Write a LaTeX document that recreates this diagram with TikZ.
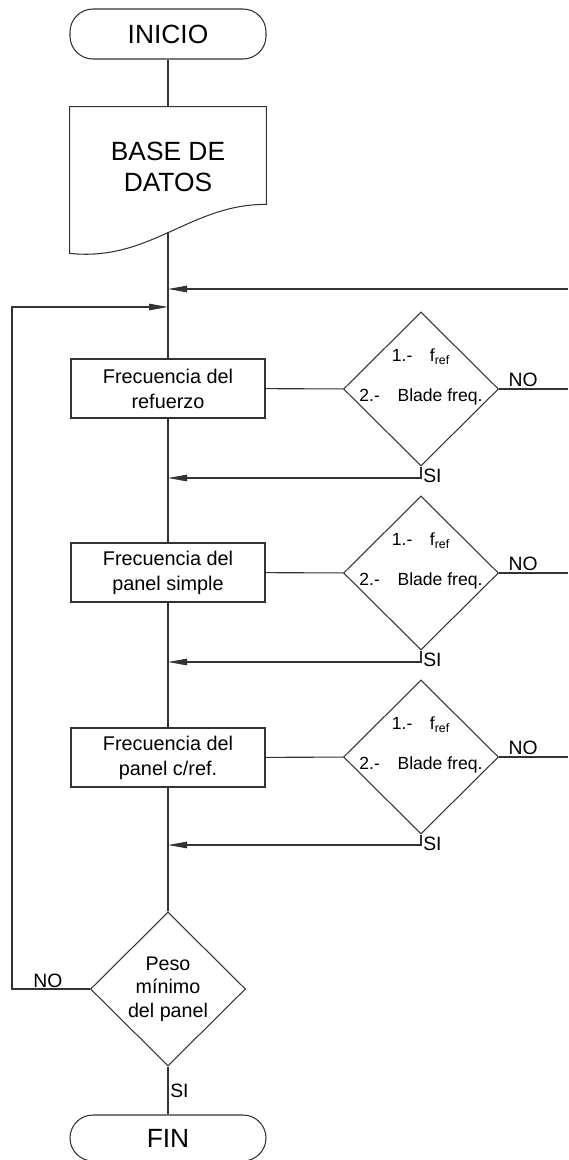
\documentclass[tikz,border=0pt]{standalone}
\usepackage{fontspec}
\setmainfont{Liberation Sans}
\usetikzlibrary{shapes.geometric,arrows.meta}
\pgfdeclarelayer{bg}
\pgfsetlayers{bg,main}
\tikzset{
        flow/.style={line width=0.6pt, draw=black!80},
        arr/.style={flow, -{Triangle[length=3.8mm,width=1.3mm]}},
        term/.style={flow, rectangle, rounded corners=0.46cm, minimum width=3.92cm, inner sep=0pt, font=\fontsize{15}{18}\selectfont},
        proc/.style={flow, rectangle, minimum width=3.88cm, minimum height=1.18cm, inner sep=0pt, align=center, font=\fontsize{11.3}{14.2}\selectfont},
        ques/.style={flow, diamond, aspect=1, minimum width=3.1cm, minimum height=3.08cm, inner sep=0pt, align=center, font=\fontsize{11.2}{13.3}\selectfont},
        qtext/.style={align=center, inner sep=0pt, font=\fontsize{10}{12}\selectfont},
        lbl/.style={inner sep=1pt, font=\fontsize{11}{13}\selectfont}
}
\begin{document}
\begin{tikzpicture}
        \useasboundingbox (0cm, 0cm) rectangle (11.360000cm, -23.200000cm);
        \node (s0) [term, minimum height=1.000000cm] at (3.360000cm, -0.680000cm) {INICIO};
        \node (b0) [minimum width=3.92cm, minimum height=2.92cm, inner sep=0pt] at (3.360000cm, -3.600000cm) {};
        \node (b1) [align=center, font=\fontsize{15}{17.6}\selectfont] at (3.360000cm, -3.340000cm) {BASE DE\\DATOS};
        \node (p1) [proc] at (3.360000cm, -7.770000cm) {Frecuencia del\\refuerzo};
        \node (p2) [proc] at (3.360000cm, -11.450000cm) {Frecuencia del\\panel simple};
        \node (p3) [proc] at (3.360000cm, -15.150000cm) {Frecuencia del\\panel c/ref.};
        \node (q1) [ques] at (8.420000cm, -7.780000cm) {};
        \node (q2) [ques] at (8.420000cm, -11.460000cm) {};
        \node (q3) [ques] at (8.420000cm, -15.140000cm) {};
        \node (t1) [qtext] at ([yshift=0.24cm]q1.center) {1.-\hspace{1em}f\textsubscript{ref}\\[10.8pt]2.-\hspace{1em}Blade freq.};
        \node (t2) [qtext] at ([yshift=0.24cm]q2.center) {1.-\hspace{1em}f\textsubscript{ref}\\[10.8pt]2.-\hspace{1em}Blade freq.};
        \node (t3) [qtext] at ([yshift=0.24cm]q3.center) {1.-\hspace{1em}f\textsubscript{ref}\\[10.8pt]2.-\hspace{1em}Blade freq.};
        \node (q4) [ques] at (3.360000cm, -19.780000cm) {Peso\\mínimo\\del panel};
        \node (s1) [term, minimum height=0.920000cm] at (3.360000cm, -22.760000cm) {FIN};
        \coordinate (bw) at (3.360000cm, -4.640000cm);
        \coordinate (j0) at (3.360000cm, -5.780000cm);
        \coordinate (r0) at (11.360000cm, -5.780000cm);
        \coordinate (j1) at (3.360000cm, -6.140000cm);
        \coordinate (l1) at (0.240000cm, -19.780000cm);
        \coordinate (r1) at (11.360000cm, -7.780000cm);
        \coordinate (r2) at (11.360000cm, -11.460000cm);
        \coordinate (r3) at (11.360000cm, -15.140000cm);
        \coordinate (k1) at (3.360000cm, -9.560000cm);
        \coordinate (k2) at (3.360000cm, -13.240000cm);
        \coordinate (k3) at (3.360000cm, -16.900000cm);
        \begin{pgfonlayer}{bg}
                \draw [flow] (b0.south west) -- (b0.north west) -- (b0.north east)
                        -- ([yshift=0.98cm]b0.south east) .. controls (3.8cm, -4.08cm) and (3.0cm, -5.24cm) .. (b0.south west) -- cycle;
                \draw (s0) edge [flow] (b0);
                \draw (bw) edge [flow] (p1);
                \draw (p1) edge [flow] (p2);
                \draw (p2) edge [flow] (p3);
                \draw (p3) edge [flow] (q4);
                \draw (q4) edge [flow] node [lbl, right] {SI} (s1);
                \draw (p1) edge [flow] (q1);
                \draw (p2) edge [flow] (q2);
                \draw (p3) edge [flow] (q3);
                \draw [arr] (r0) -- (j0);
                \draw [flow] (q1.east) -- node [lbl, above, pos=0.35] {NO} (r1);
                \draw [flow] (q2.east) -- node [lbl, above, pos=0.35] {NO} (r2);
                \draw [flow] (q3.east) -- node [lbl, above, pos=0.35] {NO} (r3);
                \draw [arr] (q1.south) |- node [lbl, pos=0, anchor=north west] {SI} (k1);
                \draw [arr] (q2.south) |- node [lbl, pos=0, anchor=north west] {SI} (k2);
                \draw [arr] (q3.south) |- node [lbl, pos=0, anchor=north west] {SI} (k3);
                \draw [arr] (q4.west) -- node [lbl, above, pos=0.54, inner sep=0.5pt] {NO} (l1) |- (j1);
        \end{pgfonlayer}
\end{tikzpicture}
\end{document}
